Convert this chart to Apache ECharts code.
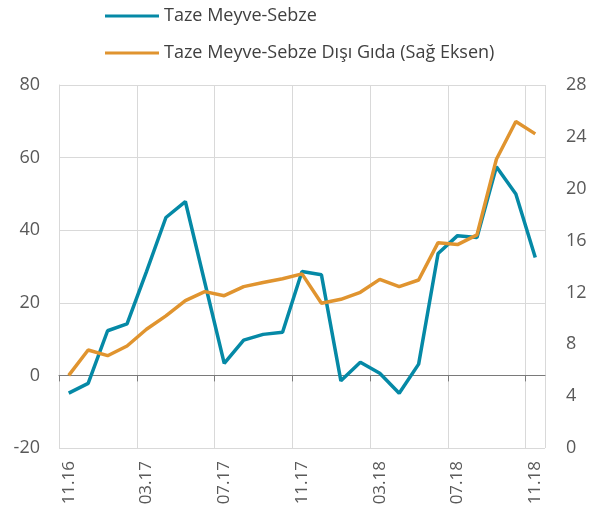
<!DOCTYPE html>
<html>
<head>
<meta charset="utf-8">
<script src="https://cdn.jsdelivr.net/npm/echarts@6/dist/echarts.min.js"></script>
<style>html,body{margin:0;padding:0;background:#fff}#c{width:604px;height:515px}</style>
</head>
<body>
<div id="c"></div>
<script>
var categories = ['11.16','12.16','01.17','02.17','03.17','04.17','05.17','06.17','07.17','08.17','09.17','10.17','11.17','12.17','01.18','02.18','03.18','04.18','05.18','06.18','07.18','08.18','09.18','10.18','11.18'];
var tazeMeyveSebze = [-4.9,-2.2,12.3,14.2,28.6,43.5,47.9,25.6,3.3,9.7,11.3,11.9,28.6,27.7,-1.5,3.6,0.6,-4.9,3.1,33.6,38.5,38.0,57.5,50.0,32.5];
var disiGida = [5.6,7.56,7.12,7.87,9.16,10.19,11.37,12.06,11.75,12.45,12.76,13.06,13.43,11.16,11.47,12.01,13.01,12.45,12.96,15.84,15.69,16.44,22.27,25.18,24.23];
var leftTicks = {min:-20, max:80, interval:20};
var rightTicks = {min:0, max:28, interval:4};

// boundaries between months, used only for the zero line's tick marks
var boundaries = categories.concat(['']);

var FONT = '"Open Sans", "Noto Sans", sans-serif';
var chart = echarts.init(document.getElementById('c'));
chart.setOption({
  animation: false,
  textStyle: {fontFamily: FONT},
  legend: {
    orient: 'vertical', left: 100, top: 2, itemGap: 19,
    itemWidth: 54, itemHeight: 3,
    textStyle: {fontSize: 18, color: '#404040', fontFamily: FONT},
    data: [
      {name: 'Taze Meyve-Sebze', icon: 'rect'},
      {name: 'Taze Meyve-Sebze Dışı Gıda (Sağ Eksen)', icon: 'rect'}
    ]
  },
  grid: {left: 59, right: 59, top: 85, bottom: 67},
  xAxis: [{
    type: 'category', data: categories, boundaryGap: true,
    axisLine: {show: false}, axisTick: {show: false},
    axisLabel: {interval: 3, rotate: 90, fontSize: 17, color: '#595959', margin: 13, fontFamily: FONT},
    splitLine: {show: true, interval: 3, lineStyle: {color: '#d9d9d9', width: 1}}
  }, {
    type: 'category', data: boundaries, boundaryGap: false, position: 'bottom',
    axisLine: {show: true, onZero: true, onZeroAxisIndex: 0, lineStyle: {color: '#7a7a7a', width: 1}},
    axisTick: {show: true, interval: 3, length: 6, lineStyle: {color: '#7a7a7a'}},
    axisLabel: {show: false}, splitLine: {show: false}
  }],
  yAxis: [{
    type: 'value', min: leftTicks.min, max: leftTicks.max, interval: leftTicks.interval,
    axisLine: {show: true, lineStyle: {color: '#d9d9d9', width: 1}}, axisTick: {show: false},
    axisLabel: {fontSize: 18, color: '#595959', margin: 19, fontFamily: FONT},
    splitLine: {lineStyle: {color: '#d9d9d9', width: 1}}
  }, {
    type: 'value', min: rightTicks.min, max: rightTicks.max, interval: rightTicks.interval,
    axisLine: {show: false}, axisTick: {show: false},
    axisLabel: {fontSize: 18, color: '#595959', margin: 21, fontFamily: FONT},
    splitLine: {show: false}
  }],
  series: [{
    name: 'Taze Meyve-Sebze', type: 'line', data: tazeMeyveSebze,
    xAxisIndex: 0, yAxisIndex: 0, symbol: 'none', z: 3,
    itemStyle: {color: '#0589A6'},
    lineStyle: {color: '#0589A6', width: 3.5}
  }, {
    name: 'Taze Meyve-Sebze Dışı Gıda (Sağ Eksen)', type: 'line', data: disiGida,
    xAxisIndex: 0, yAxisIndex: 1, symbol: 'none', z: 4,
    itemStyle: {color: '#E0942F'},
    lineStyle: {color: '#E0942F', width: 3.5}
  }]
});
</script>
</body>
</html>
